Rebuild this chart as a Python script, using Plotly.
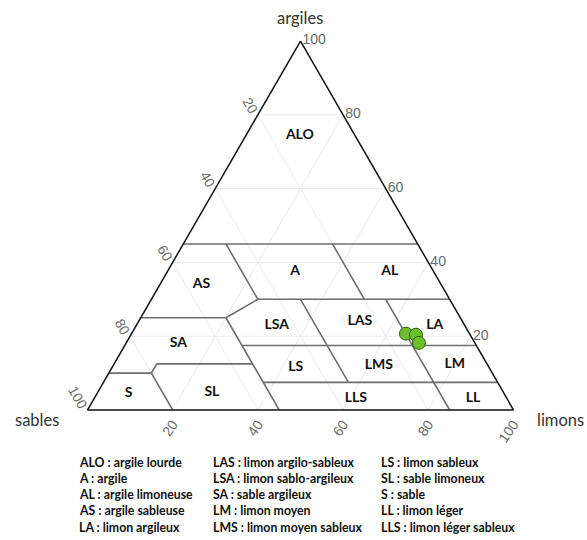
import plotly.graph_objects as go

# texture classes: boundary segments as (clay, silt) pairs, sand = 100 - clay - silt
seg_clay = [
    [45, 45], [30, 30], [25, 25], [17.5, 17.5], [12.5, 12.5], [10, 10], [7.5, 7.5],
    [45, 30], [30, 25], [25, 0], [30, 7.5], [45, 30], [30, 0], [12.5, 10], [10, 0],
]
seg_silt = [
    [0, 55], [25, 70], [0, 20], [27.5, 82.5], [10, 32.5], [0, 10], [37.5, 92.5],
    [10, 25], [25, 20], [20, 45], [35, 57.5], [35, 50], [55, 85], [10, 10], [10, 20],
]

label_text = ["ALO", "AS", "A", "AL", "LSA", "LAS", "LA", "SA", "LS", "LMS", "LM", "S", "SL", "LLS", "LL"]
label_clay = [74.5, 34.1, 37.5, 37.5, 23.0, 23.9, 23.0, 18.1, 11.6, 12.0, 12.4, 4.5, 4.8, 3.0, 3.2]
label_silt = [12.6, 9.7, 30.0, 52.2, 32.9, 52.0, 70.0, 12.3, 43.1, 62.4, 80.0, 7.4, 26.8, 61.5, 88.9]

# samples
sample_clay = [20.7, 20.4, 18.2]
sample_silt = [64.4, 66.9, 68.7]

legend_cols = [
    ["ALO : argile lourde", "A : argile", "AL : argile limoneuse", "AS : argile sableuse", "LA : limon argileux"],
    ["LAS : limon argilo-sableux", "LSA : limon sablo-argileux", "SA : sable argileux", "LM : limon moyen",
     "LMS : limon moyen sableux"],
    ["LS : limon sableux", "SL : sable limoneux", "S : sable", "LL : limon léger", "LLS : limon léger sableux"],
]

edge_vals = [0, 20, 40, 60, 80]

W, H = 587, 540


def px(x):
    return x / W


def py(y):
    return 1 - y / H


fig = go.Figure()

# boundaries
a, b, c = [], [], []
for cl, si in zip(seg_clay, seg_silt):
    for k in range(2):
        a.append(cl[k])
        c.append(si[k])
        b.append(100 - cl[k] - si[k])
    a.append(None); b.append(None); c.append(None)

fig.add_trace(go.Scatterternary(
    a=a, b=b, c=c, mode="lines",
    line=dict(color="#6e6e6e", width=1.6),
    hoverinfo="skip", showlegend=False, connectgaps=False
))

fig.add_trace(go.Scatterternary(
    a=label_clay, c=label_silt,
    b=[100 - x - y for x, y in zip(label_clay, label_silt)],
    mode="text", text=label_text,
    textfont=dict(family="Lato", size=14, color="#111"),
    texttemplate="<b>%{text}</b>",
    hoverinfo="skip", showlegend=False
))

fig.add_trace(go.Scatterternary(
    a=sample_clay, c=sample_silt,
    b=[100 - x - y for x, y in zip(sample_clay, sample_silt)],
    mode="markers",
    marker=dict(size=13, color="#6cc02c", line=dict(color="#2f5d12", width=1)),
    showlegend=False
))

axis_common = dict(
    showline=True, linecolor="#111", linewidth=1.5,
    showgrid=True, gridcolor="#ececec", gridwidth=1,
    ticks="", tickmode="array",
    tickfont=dict(family="Liberation Sans", size=14, color="#6a6a6a"),
    title=dict(text=""),
)

fig.update_layout(
    width=W, height=H,
    margin=dict(l=0, r=0, t=0, b=0),
    paper_bgcolor="white",
    font=dict(family="Lato"),
    ternary=dict(
        sum=100,
        bgcolor="white",
        domain=dict(x=[px(87), px(514)], y=[py(410), py(41)]),
        aaxis=dict(axis_common, tickvals=[80, 60, 40, 20, 0], ticktext=["20", "40", "60", "80", "100"],
                   tickangle=60),
        baxis=dict(axis_common, tickvals=[80, 60, 40, 20, 0], ticktext=["20", "40", "60", "80", "100"],
                   tickangle=-55),
        caxis=dict(axis_common, tickvals=edge_vals, ticktext=["100", "80", "60", "40", "20"],
                   tickangle=0),
    ),
)

title_font = dict(family="Lato", size=16.5, color="#333")
for txt, x0, y0, anchor in [("argiles", 300, 18, "center"), ("sables", 37, 420, "center"),
                            ("limons", 535, 420, "left")]:
    fig.add_annotation(
        x=px(x0), y=py(y0), xref="paper", yref="paper",
        xanchor=anchor, yanchor="middle", showarrow=False, text=txt, font=title_font,
    )

col_x = [77, 211, 379]
for x0, col in zip(col_x, legend_cols):
    for i, txt in enumerate(col):
        fig.add_annotation(
            x=px(x0), y=py(462 + i * 16.3), xref="paper", yref="paper",
            xanchor="left", yanchor="middle", showarrow=False,
            text="<b>" + txt + "</b>",
            font=dict(family="Lato", size=12.3, color="#111"),
        )

# drop the default page margin so the figure fills the window exactly
fig.write_html(
    "out.html",
    config={"displayModeBar": False},
    post_script="document.body.style.margin='0';document.body.style.overflow='hidden';",
)
